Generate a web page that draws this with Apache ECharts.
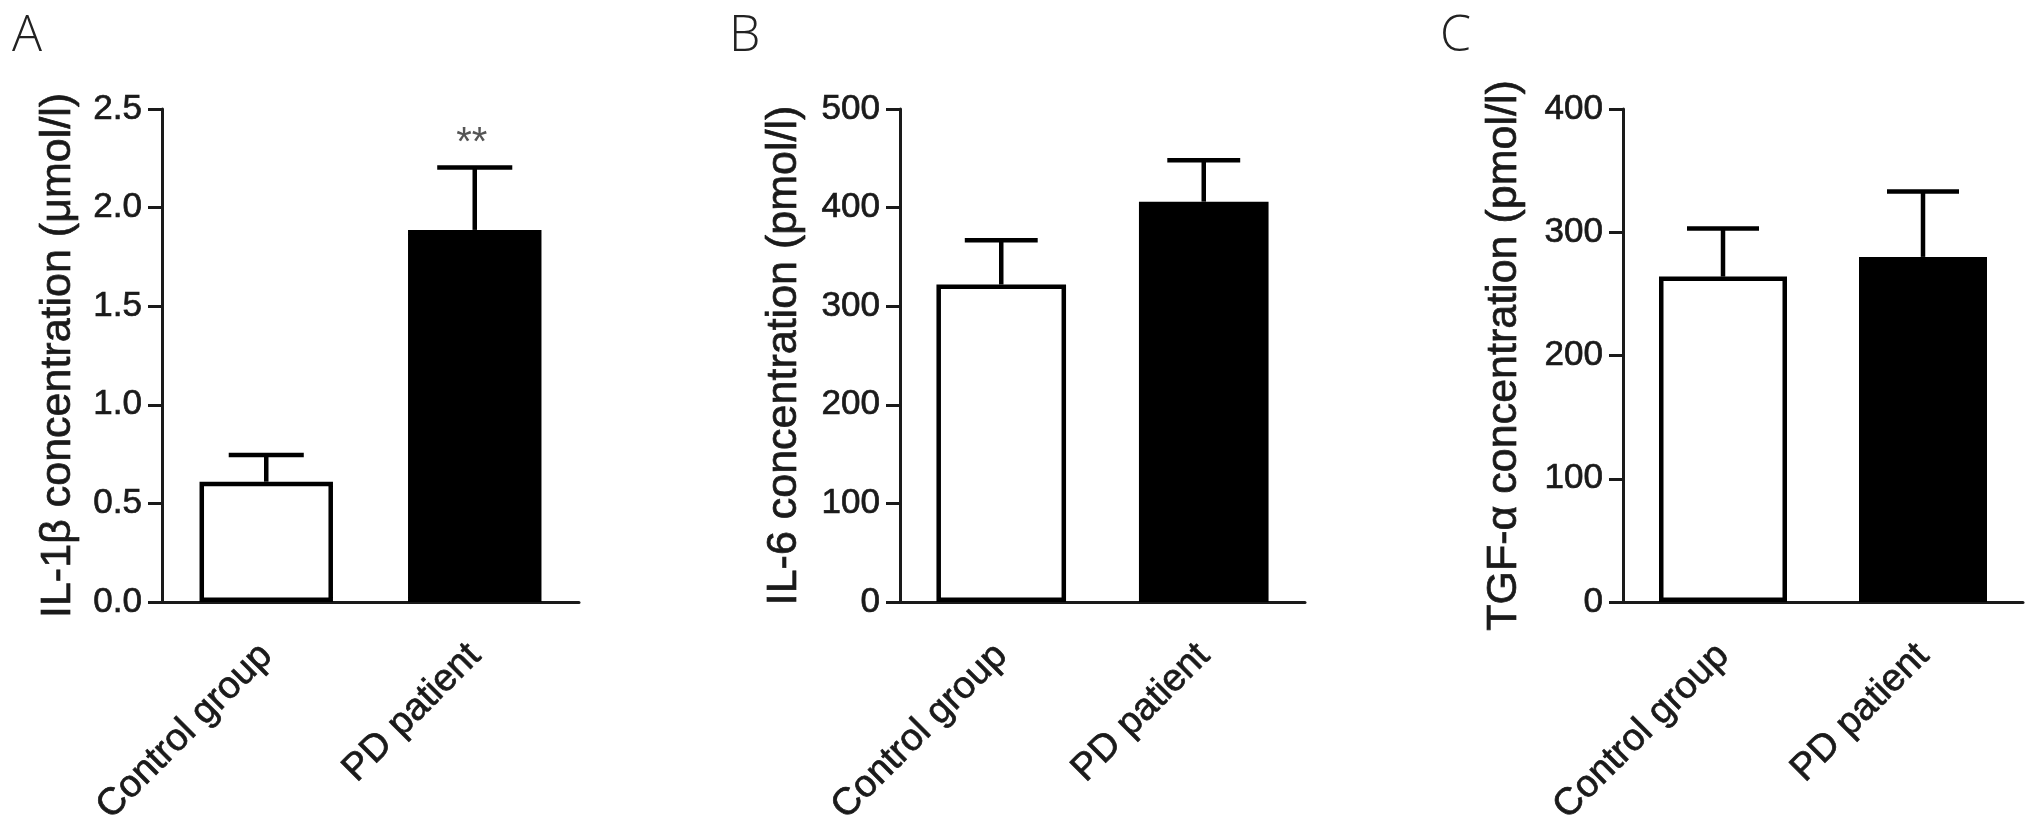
<!DOCTYPE html>
<html>
<head>
<meta charset="utf-8">
<script src="https://cdn.jsdelivr.net/npm/echarts@6/dist/echarts.min.js"></script>
<style>
  html, body { margin: 0; padding: 0; background: #fff; }
  #chart { width: 2031px; height: 837px; }
</style>
</head>
<body>
<div id="chart"></div>
<script>
// data (mean and upper error bar = mean + SEM)
const categories = ['Control group', 'PD patient'];
const barColors = ['#ffffff', '#000000'];

const il1bMean = [0.61, 1.887];
const il1bSem = [0.135, 0.316];
const il1bSig = ['', '**'];

const il6Mean = [322, 406];
const il6Sem = [45, 42];

const tgfMean = [264, 280];
const tgfSem = [39, 53];

const panelLetters = ['A', 'B', 'C'];
const yTitles = [
  'IL-1\u03b2 concentration (\u03bcmol/l)',
  'IL-6 concentration (pmol/l)',
  'TGF-\u03b1 concentration (pmol/l)'
];
const yMax = [2.5, 500, 400];
const yStep = [0.5, 100, 100];

const FONT = '"Liberation Sans", Arial, Helvetica, sans-serif';
const INK = '#1a1a1a';

const panels = [
  { mean: il1bMean, sem: il1bSem, sig: il1bSig, digits: 1 },
  { mean: il6Mean, sem: il6Sem, sig: ['', ''], digits: 0 },
  { mean: tgfMean, sem: tgfSem, sig: ['', ''], digits: 0 }
];

// layout of the three panels
const gridLeft = [162, 900, 1623];
const gridWidth = [417, 405, 400];
const nameGap = [82, 94, 97];
const letterLeft = [12, 729, 1440];

// slightly heavier strokes, the scanned figure text is a bit bold
const thick = { textBorderColor: INK, textBorderWidth: 0.7 };

function errorBars(sigList) {
  return function (params, api) {
    const idx = api.value(0);
    const base = api.coord([idx, api.value(1)]);
    const top = api.coord([idx, api.value(2)]);
    const half = api.size([1, 0])[0] * 0.18;
    const style = { stroke: '#000', lineWidth: 4.5 };
    const children = [
      { type: 'line', shape: { x1: base[0], y1: base[1], x2: top[0], y2: top[1] }, style: style },
      { type: 'line', shape: { x1: top[0] - half, y1: top[1], x2: top[0] + half, y2: top[1] }, style: style }
    ];
    const sig = sigList[params.dataIndex];
    if (sig) {
      children.push({
        type: 'text',
        style: {
          text: sig, x: top[0] - 3, y: top[1] - 24,
          align: 'center', verticalAlign: 'middle',
          font: '40px ' + FONT, fill: '#555'
        }
      });
    }
    return { type: 'group', children: children };
  };
}

const option = {
  animation: false,
  backgroundColor: '#fff',
  title: panelLetters.map((t, i) => ({
    text: t,
    left: letterLeft[i],
    top: 12,
    padding: 0,
    textStyle: { fontFamily: '"Open Sans", sans-serif', fontWeight: 300, fontSize: 50, color: '#222' }
  })),
  grid: gridLeft.map((l, i) => ({ left: l, width: gridWidth[i], top: 109, height: 493 })),
  xAxis: panels.map((p, i) => ({
    type: 'category',
    gridIndex: i,
    data: categories,
    axisLine: { lineStyle: { color: INK, width: 3 } },
    axisTick: { alignWithLabel: true, length: 15, lineStyle: { color: INK, width: 3 } },
    axisLabel: Object.assign({ rotate: 45, margin: 48, fontSize: 38, fontFamily: FONT, color: INK, interval: 0 }, thick)
  })),
  yAxis: panels.map((p, i) => ({
    type: 'value',
    gridIndex: i,
    min: 0,
    max: yMax[i],
    interval: yStep[i],
    name: yTitles[i],
    nameLocation: 'middle',
    nameGap: nameGap[i],
    nameTextStyle: Object.assign({ fontSize: 43, fontFamily: FONT, color: INK }, thick),
    splitLine: { show: false },
    axisLine: { show: true, lineStyle: { color: INK, width: 3 } },
    axisTick: { show: true, length: 14, lineStyle: { color: INK, width: 3 } },
    axisLabel: Object.assign({
      margin: 20, fontSize: 35, fontFamily: FONT, color: INK,
      formatter: v => v.toFixed(p.digits)
    }, thick)
  })),
  series: []
};

panels.forEach((p, i) => {
  option.series.push({
    type: 'bar',
    xAxisIndex: i,
    yAxisIndex: i,
    barWidth: '64%',
    data: p.mean.map((v, k) => ({
      value: v,
      itemStyle: { color: barColors[k], borderColor: '#000', borderWidth: 4.5 }
    }))
  });
  option.series.push({
    type: 'custom',
    xAxisIndex: i,
    yAxisIndex: i,
    z: 3,
    renderItem: errorBars(p.sig),
    data: p.mean.map((v, k) => [k, v, v + p.sem[k]])
  });
});

const chart = echarts.init(document.getElementById('chart'));
chart.setOption(option);
window.addEventListener('resize', () => chart.resize());
</script>
</body>
</html>
